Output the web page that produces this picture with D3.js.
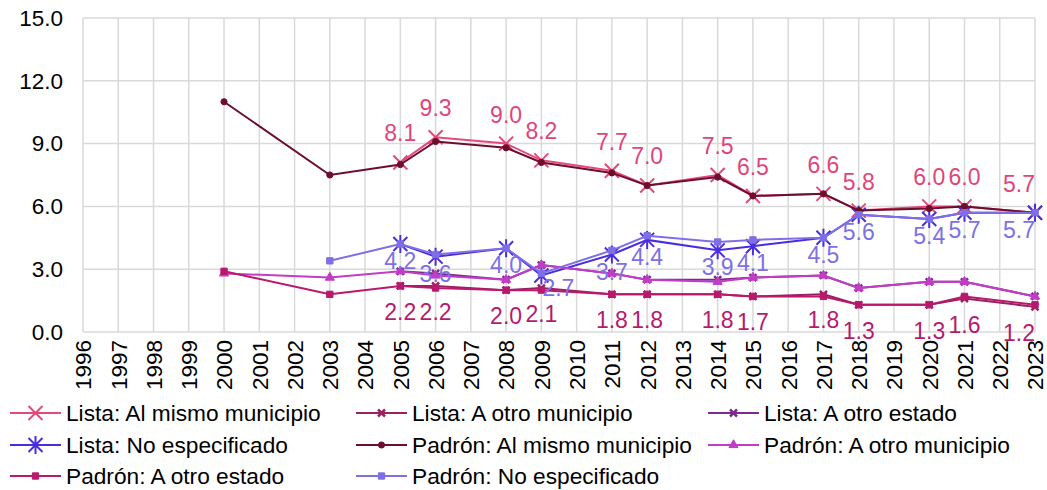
<!DOCTYPE html>
<html>
<head>
<meta charset="utf-8">
<script src="https://cdn.jsdelivr.net/npm/d3@7"></script>
<style>
  body { margin: 0; background: #fff; }
  svg text { font-family: "Liberation Sans", Arial, sans-serif; }
</style>
</head>
<body>
<div id="chart"></div>
<script>
// categorias del eje x
const years = d3.range(1996, 2024);
// años con dato
const dataYears = [2000, 2003, 2005, 2006, 2008, 2009, 2011, 2012, 2014, 2015, 2017, 2018, 2020, 2021, 2023];

const listaMismo    = [null, null, 8.1, 9.3, 9.0, 8.2, 7.7, 7.0, 7.5, 6.5, 6.6, 5.8, 6.0, 6.0, 5.7];
const listaOtroMun  = [null, null, 2.2, 2.2, 2.0, 2.1, 1.8, 1.8, 1.8, 1.7, 1.8, 1.3, 1.3, 1.6, 1.2];
const listaOtroEst  = [null, null, 2.9, 2.8, 2.5, 3.2, 2.8, 2.5, 2.5, 2.6, 2.7, 2.1, 2.4, 2.4, 1.7];
const listaNoEsp    = [null, null, 4.2, 3.6, 4.0, 2.7, 3.7, 4.4, 3.9, 4.1, 4.5, 5.6, 5.4, 5.7, 5.7];
const padronMismo   = [11.0, 7.5, 8.0, 9.1, 8.8, 8.1, 7.6, 7.0, 7.4, 6.5, 6.6, 5.8, 5.9, 6.0, 5.7];
const padronOtroMun = [2.8, 2.6, 2.9, 2.7, 2.5, 3.2, 2.8, 2.5, 2.4, 2.6, 2.7, 2.1, 2.4, 2.4, 1.7];
const padronOtroEst = [2.9, 1.8, 2.2, 2.1, 2.0, 2.0, 1.8, 1.8, 1.8, 1.7, 1.7, 1.3, 1.3, 1.7, 1.3];
const padronNoEsp   = [null, 3.4, 4.2, 3.7, 4.0, 2.8, 3.9, 4.6, 4.3, 4.4, 4.5, 5.6, 5.4, 5.7, 5.7];

const yTicks = [0, 3, 6, 9, 12, 15];

const series = [
  { name: "Lista: Al mismo municipio",   values: listaMismo,    color: "#e4497a", marker: "bigX",     label: "above", labelColor: "#e0457a" },
  { name: "Lista: A otro municipio",     values: listaOtroMun,  color: "#9c1f5f", marker: "smallX",   label: "below", labelColor: "#b51a6e" },
  { name: "Lista: A otro estado",        values: listaOtroEst,  color: "#7b2b8c", marker: "smallX" },
  { name: "Lista: No especificado",      values: listaNoEsp,    color: "#4b2de0", marker: "asterisk", label: "belowNear", labelColor: "#7d70e6" },
  { name: "Padrón: Al mismo municipio",  values: padronMismo,   color: "#6d0f2c", marker: "circle" },
  { name: "Padrón: A otro municipio",    values: padronOtroMun, color: "#c23cc8", marker: "triangle" },
  { name: "Padrón: A otro estado",       values: padronOtroEst, color: "#b8196c", marker: "square" },
  { name: "Padrón: No especificado",     values: padronNoEsp,   color: "#7e6fe6", marker: "square" }
];

const W = 1047, H = 490;
const m = { left: 83, right: 12, top: 18, bottom: 158 };

const svg = d3.select("#chart").append("svg")
  .attr("width", W).attr("height", H);

const x = d3.scalePoint().domain(years).range([m.left, W - m.right]);
const y = d3.scaleLinear().domain([0, 15]).range([H - m.bottom, m.top]);

// rejilla
const grid = svg.append("g");
grid.selectAll("line.v").data(years).enter().append("line")
  .attr("x1", d => x(d)).attr("x2", d => x(d))
  .attr("y1", y(15)).attr("y2", y(0))
  .attr("stroke", "#d9d9d9").attr("stroke-width", 1.5);
grid.selectAll("line.h").data(yTicks).enter().append("line")
  .attr("x1", x(1996)).attr("x2", x(2023))
  .attr("y1", d => y(d)).attr("y2", d => y(d))
  .attr("stroke", "#d9d9d9").attr("stroke-width", 1.5);

// eje y
const yAxis = d3.axisLeft(y).tickValues(yTicks).tickFormat(d3.format(".1f")).tickSize(0).tickPadding(20);
svg.append("g").attr("transform", `translate(${m.left},0)`).call(yAxis)
  .call(g => g.select(".domain").remove())
  .selectAll("text").attr("font-size", 22.5).attr("fill", "#000")
  .style("font-family", '"Liberation Sans", Arial, sans-serif');

// eje x (etiquetas verticales)
const xAxis = d3.axisBottom(x).tickSize(0).tickPadding(0);
svg.append("g").attr("transform", `translate(0,${y(0)})`).call(xAxis)
  .call(g => g.select(".domain").remove())
  .selectAll("text")
  .attr("font-size", 22.5).attr("fill", "#000")
  .style("font-family", '"Liberation Sans", Arial, sans-serif')
  .attr("text-anchor", "end")
  .attr("dy", "0.35em")
  .attr("transform", "translate(0,8) rotate(-90)")
  .attr("x", 0).attr("y", 0);

function markerPath(type) {
  if (type === "bigX") return "M-7,-7L7,7M-7,7L7,-7";
  if (type === "asterisk") return "M-7,-7L7,7M-7,7L7,-7M0,-9L0,9";
  if (type === "smallX") return "M-3.5,-3.5L3.5,3.5M-3.5,3.5L3.5,-3.5";
  if (type === "circle") return d3.symbol(d3.symbolCircle, 30)();
  if (type === "triangle") return d3.symbol(d3.symbolTriangle, 36)();
  return d3.symbol(d3.symbolSquare, 40)();
}
function drawMarker(g, type, color) {
  const open = type === "bigX" || type === "asterisk" || type === "smallX";
  g.append("path").attr("d", markerPath(type))
    .attr("fill", open ? "none" : color)
    .attr("stroke", color)
    .attr("stroke-width", type === "smallX" ? 2.5 : (open ? 2 : 1));
}

const line = d3.line()
  .defined(d => d.v != null)
  .x(d => x(d.year)).y(d => y(d.v));

series.forEach(s => {
  const pts = dataYears.map((yr, i) => ({ year: yr, v: s.values[i] })).filter(d => d.v != null);
  s.pts = pts;
  const g = svg.append("g");
  g.append("path").datum(pts).attr("d", line)
    .attr("fill", "none").attr("stroke", s.color).attr("stroke-width", 2);
  g.selectAll("g.mk").data(pts).enter().append("g")
    .attr("transform", d => `translate(${x(d.year)},${y(d.v)})`)
    .each(function () { drawMarker(d3.select(this), s.marker, s.color); });
});

// etiquetas de datos
const labelOffset = { above: -21, below: 34, belowNear: 25 };
const placed = [];
series.filter(s => s.label).forEach(s => {
  svg.append("g").selectAll("text").data(s.pts).enter().append("text")
    .attr("x", d => Math.min(x(d.year), W - 28))
    .attr("y", d => y(d.v) + labelOffset[s.label])
    .attr("text-anchor", "middle")
    .attr("font-size", 23)
    .attr("fill", s.labelColor)
    .text(d => d3.format(".1f")(d.v))
    .each(function () { placed.push(this); });
});
// si una etiqueta choca con otra, se corre a la derecha
function hits(a, b) {
  return a.x < b.x + b.width && b.x < a.x + a.width && a.y < b.y + b.height && b.y < a.y + a.height;
}
placed.forEach((el, i) => {
  const bb = el.getBBox();
  const clash = placed.some((o, j) => j < i && hits(bb, o.getBBox()));
  if (clash) {
    const sel = d3.select(el);
    sel.attr("x", +sel.attr("x") + 17).attr("y", +sel.attr("y") - 4);
  }
});

// leyenda
const legCols = [10, 356, 708];
const legRows = [413, 445, 476];
const leg = svg.append("g");
series.forEach((s, i) => {
  const lx = legCols[i % 3], ly = legRows[Math.floor(i / 3)];
  const g = leg.append("g").attr("transform", `translate(${lx},${ly})`);
  g.append("line").attr("x1", 0).attr("x2", 51).attr("y1", 0).attr("y2", 0)
    .attr("stroke", s.color).attr("stroke-width", 2);
  const mk = g.append("g").attr("transform", "translate(25.5,0)");
  drawMarker(mk, s.marker, s.color);
  g.append("text").attr("x", 56).attr("y", 0).attr("dy", "0.35em")
    .attr("font-size", 22.7).attr("fill", "#000").text(s.name);
});
</script>
</body>
</html>
